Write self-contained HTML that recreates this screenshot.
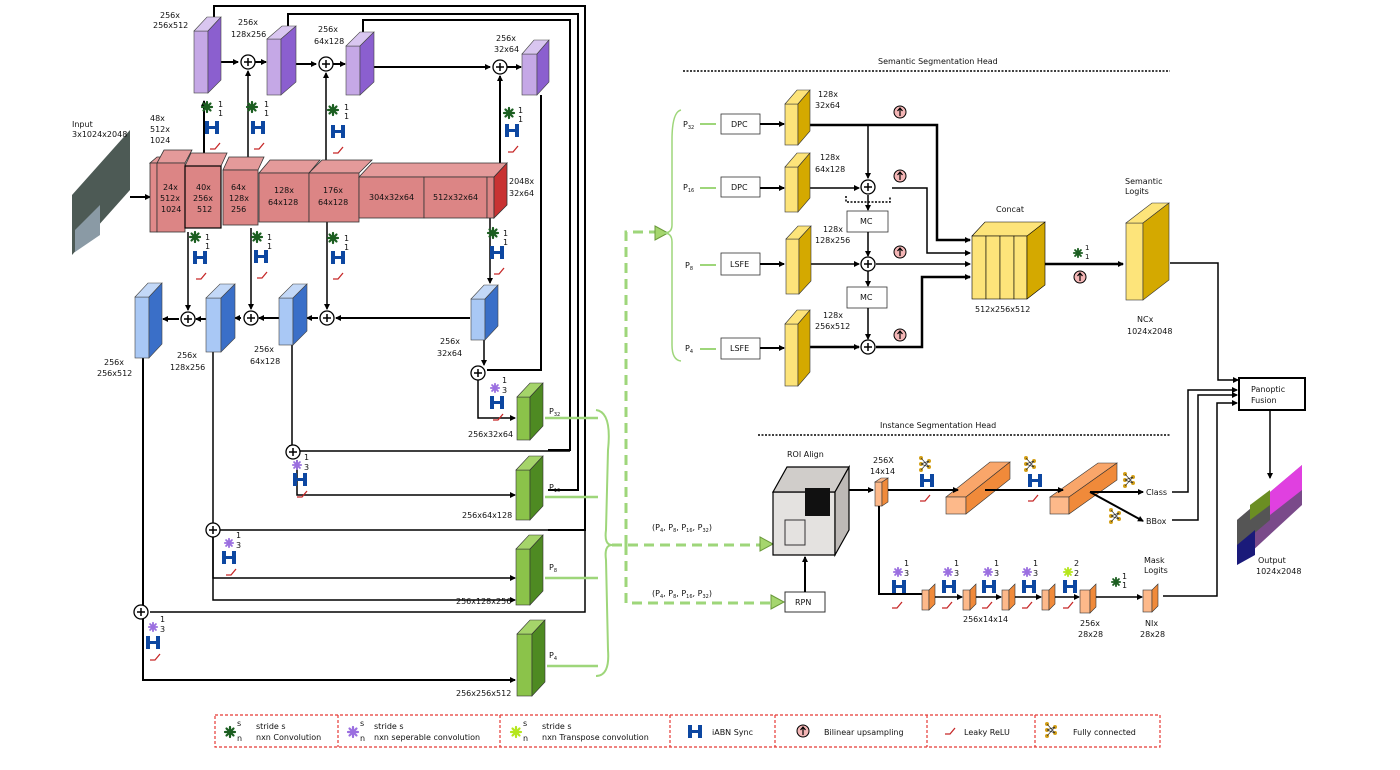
<!DOCTYPE html>
<html><head><meta charset="utf-8"><style>
html,body{margin:0;padding:0;background:#fff;}
svg{display:block;font-family:"DejaVu Sans","Liberation Sans",sans-serif;}
text{font-size:8px;fill:#111;}
</style></head><body>
<svg width="1400" height="770" viewBox="0 0 1400 770" xmlns="http://www.w3.org/2000/svg">
<defs>
<marker id="ar" markerWidth="6" markerHeight="6" refX="5" refY="3" orient="auto" markerUnits="userSpaceOnUse"><path d="M0,0 L6,3 L0,6 z" fill="#000"/></marker>
<symbol id="ast" viewBox="-6 -6 12 12" overflow="visible"><g stroke-width="2.2" stroke-linecap="round"><path d="M-5,0H5M0,-5V5M-3.5,-3.5L3.5,3.5M-3.5,3.5L3.5,-3.5"/></g></symbol>
<g id="H"><rect x="0" y="0" width="4" height="13" fill="#0d47a1"/><rect x="10" y="0" width="4" height="13" fill="#0d47a1"/><rect x="3" y="5" width="8" height="3" fill="#0d47a1"/></g>
<path id="relu" d="M0,8 L5,8 L10,2" fill="none" stroke="#c62828" stroke-width="1.3"/>
<g id="plus"><circle r="7" fill="#fff" stroke="#000" stroke-width="1.3"/><path d="M-4,0H4M0,-4V4" stroke="#000" stroke-width="1.5"/></g>
<g id="up"><circle r="6" fill="#f4b6b6" stroke="#000" stroke-width="1"/><path d="M0,4V-3M-2.5,-1L0,-4L2.5,-1" stroke="#000" stroke-width="1.2" fill="none"/></g>
<g id="fc" fill="#d4a017"><circle cx="0" cy="0" r="2"/><circle cx="0" cy="6" r="2"/><circle cx="0" cy="12" r="2"/><circle cx="8" cy="3" r="2"/><circle cx="8" cy="9" r="2"/><path d="M0,0L8,9M0,12L8,3M0,6L8,3M0,6L8,9" stroke="#333" stroke-width="0.7"/></g>
</defs>

<!-- input image -->
<polygon points="72,195 130,130 130,190 72,255" fill="#4d5a55"/>
<polygon points="75,230 100,205 100,235 75,252" fill="#8a9aa5"/>
<text x="72" y="127">Input</text><text x="72" y="137">3x1024x2048</text>
<line x1="130" y1="197" x2="150" y2="197" stroke="#000" stroke-width="2" marker-end="url(#ar)"/>

<!-- black long connectors -->
<g fill="none" stroke="#000" stroke-width="2">
<path d="M214,17 V6 H585 V530 H548"/>
<path d="M288,26 V14 H578 V490 H548"/>
<path d="M363,32 V20 H570 V450 H548"/>
<path d="M541,95 V370 H487"/>
</g>
<path d="M143,358 V680 H515" fill="none" stroke="#000" stroke-width="2" marker-end="url(#ar)"/>
<path d="M213,352 V600 H515" fill="none" stroke="#000" stroke-width="1.5" marker-end="url(#ar)"/>
<path d="M292,345 V450" fill="none" stroke="#000" stroke-width="1.5" marker-end="url(#ar)"/>
<path d="M484,340 V365" fill="none" stroke="#000" stroke-width="1.5" marker-end="url(#ar)"/>
<path d="M297,451 H570" fill="none" stroke="#000" stroke-width="1.5"/>
<path d="M297,460 V495 H515" fill="none" stroke="#000" stroke-width="1.5" marker-end="url(#ar)"/>
<path d="M220,530 H585" fill="none" stroke="#000" stroke-width="1.5"/>
<path d="M213,537 V578 H515" fill="none" stroke="#000" stroke-width="1.5" marker-end="url(#ar)"/>
<path d="M150,612 H585 V530" fill="none" stroke="#000" stroke-width="1.5"/>
<path d="M143,620 V665" fill="none" stroke="#000" stroke-width="1.5"/>
<path d="M478,376 V418 H515" fill="none" stroke="#000" stroke-width="1.5" marker-end="url(#ar)"/>
<use href="#plus" x="478" y="373"/>
<use href="#plus" x="293" y="452"/>
<use href="#plus" x="213" y="530"/>
<use href="#plus" x="141" y="612"/>

<!-- top purple path -->
<g stroke="#000" stroke-width="2" fill="none">
<line x1="221" y1="62" x2="238" y2="62" marker-end="url(#ar)"/>
<line x1="255" y1="62" x2="266" y2="62" marker-end="url(#ar)"/>
<line x1="296" y1="64" x2="316" y2="64" marker-end="url(#ar)"/>
<line x1="333" y1="64" x2="345" y2="64" marker-end="url(#ar)"/>
<line x1="374" y1="67" x2="490" y2="67" marker-end="url(#ar)"/>
<line x1="507" y1="67" x2="521" y2="67" marker-end="url(#ar)"/>
<line x1="204" y1="163" x2="204" y2="101" marker-end="url(#ar)"/>
<line x1="248" y1="163" x2="248" y2="71" marker-end="url(#ar)" stroke-width="1.5"/>
<line x1="326" y1="170" x2="326" y2="73" marker-end="url(#ar)" stroke-width="1.5"/>
<line x1="500" y1="163" x2="500" y2="76" marker-end="url(#ar)"/>
<line x1="188" y1="232" x2="188" y2="310" marker-end="url(#ar)" stroke-width="1.5"/>
<line x1="251" y1="228" x2="251" y2="309" marker-end="url(#ar)" stroke-width="1.5"/>
<line x1="327" y1="222" x2="327" y2="309" marker-end="url(#ar)" stroke-width="1.5"/>
<line x1="490" y1="218" x2="490" y2="283" marker-end="url(#ar)" stroke-width="1.5"/>
<line x1="470" y1="318" x2="336" y2="318" marker-end="url(#ar)"/>
<line x1="318" y1="318" x2="307" y2="318" marker-end="url(#ar)"/>
<line x1="279" y1="318" x2="259" y2="318" marker-end="url(#ar)"/>
<line x1="241" y1="318" x2="235" y2="318" marker-end="url(#ar)"/>
<line x1="206" y1="319" x2="196" y2="319" marker-end="url(#ar)"/>
<line x1="179" y1="319" x2="163" y2="319" marker-end="url(#ar)"/>
</g>
<use href="#plus" x="248" y="62"/><use href="#plus" x="326" y="64"/><use href="#plus" x="500" y="67"/>
<use href="#plus" x="188" y="319"/><use href="#plus" x="251" y="318"/><use href="#plus" x="327" y="318"/>

<!-- purple blocks -->
<g stroke="#444" stroke-width="0.6">
<rect x="194" y="31" width="14" height="62" fill="#c5a8e6"/><polygon points="194,31 208,31 221,17 207,17" fill="#d9c6f0"/><polygon points="208,31 221,17 221,80 208,93" fill="#8b5fcf"/>
<rect x="267" y="39" width="14" height="56" fill="#c5a8e6"/><polygon points="267,39 281,39 296,26 282,26" fill="#d9c6f0"/><polygon points="281,39 296,26 296,82 281,95" fill="#8b5fcf"/>
<rect x="346" y="46" width="14" height="49" fill="#c5a8e6"/><polygon points="346,46 360,46 374,32 360,32" fill="#d9c6f0"/><polygon points="360,46 374,32 374,82 360,95" fill="#8b5fcf"/>
<rect x="522" y="54" width="15" height="41" fill="#c5a8e6"/><polygon points="522,54 537,54 549,40 534,40" fill="#d9c6f0"/><polygon points="537,54 549,40 549,82 537,95" fill="#8b5fcf"/>
</g>
<text x="160" y="18">256x</text><text x="153" y="28">256x512</text>
<text x="238" y="25">256x</text><text x="231" y="37">128x256</text>
<text x="318" y="32">256x</text><text x="314" y="44">64x128</text>
<text x="496" y="41">256x</text><text x="494" y="52">32x64</text>

<!-- red encoder -->
<g stroke="#333" stroke-width="0.8">
<polygon points="150,163 157,163 164,157 157,157" fill="#e49a9a"/>
<rect x="150" y="163" width="7" height="69" fill="#e08a8a"/>
<polygon points="157,163 185,163 192,150 164,150" fill="#e49a9a"/>
<rect x="157" y="163" width="28" height="69" fill="#dc8585"/>
<polygon points="185,166 221,166 227,153 191,153" fill="#e49a9a"/>
<rect x="185" y="166" width="36" height="62" fill="#dc8585" stroke="#000" stroke-width="1.2"/>
<polygon points="223,170 258,170 264,157 229,157" fill="#e49a9a"/>
<rect x="223" y="170" width="35" height="55" fill="#dc8585"/>
<polygon points="259,173 309,173 320,160 270,160" fill="#e49a9a"/>
<rect x="259" y="173" width="50" height="49" fill="#dc8585"/>
<polygon points="309,173 359,173 372,160 322,160" fill="#e49a9a"/>
<rect x="309" y="173" width="50" height="49" fill="#dc8585"/>
<polygon points="359,177 494,177 507,163 372,163" fill="#e49a9a"/>
<rect x="359" y="177" width="65" height="41" fill="#dc8585"/>
<rect x="424" y="177" width="63" height="41" fill="#dc8585"/>
<rect x="487" y="177" width="7" height="41" fill="#dc8585"/>
<polygon points="494,177 507,163 507,205 494,218" fill="#c83232"/>
</g>
<text x="150" y="121">48x</text><text x="150" y="132">512x</text><text x="150" y="143">1024</text>
<text x="163" y="190">24x</text><text x="160" y="201">512x</text><text x="161" y="212">1024</text>
<text x="196" y="190">40x</text><text x="193" y="201">256x</text><text x="197" y="212">512</text>
<text x="231" y="190">64x</text><text x="229" y="201">128x</text><text x="231" y="212">256</text>
<text x="274" y="193">128x</text><text x="268" y="205">64x128</text>
<text x="323" y="193">176x</text><text x="318" y="205">64x128</text>
<text x="369" y="200">304x32x64</text><text x="433" y="200">512x32x64</text>
<text x="509" y="184">2048x</text><text x="509" y="196">32x64</text>

<!-- blue blocks -->
<g stroke="#444" stroke-width="0.6">
<rect x="135" y="297" width="14" height="61" fill="#a9c8f5"/><polygon points="135,297 149,297 162,283 148,283" fill="#c3d8f7"/><polygon points="149,297 162,283 162,344 149,358" fill="#3a6fc8"/>
<rect x="206" y="298" width="15" height="54" fill="#a9c8f5"/><polygon points="206,298 221,298 235,284 220,284" fill="#c3d8f7"/><polygon points="221,298 235,284 235,338 221,352" fill="#3a6fc8"/>
<rect x="279" y="298" width="14" height="47" fill="#a9c8f5"/><polygon points="279,298 293,298 307,284 293,284" fill="#c3d8f7"/><polygon points="293,298 307,284 307,331 293,345" fill="#3a6fc8"/>
<rect x="471" y="299" width="14" height="41" fill="#a9c8f5"/><polygon points="471,299 485,299 498,285 484,285" fill="#c3d8f7"/><polygon points="485,299 498,285 498,326 485,340" fill="#3a6fc8"/>
</g>
<text x="104" y="365">256x</text><text x="97" y="376">256x512</text>
<text x="177" y="358">256x</text><text x="170" y="370">128x256</text>
<text x="254" y="352">256x</text><text x="250" y="364">64x128</text>
<text x="440" y="344">256x</text><text x="437" y="356">32x64</text>

<!-- icon groups (conv 1x1 + iABN + relu) -->
<g fill="#1b5e20" stroke="#1b5e20">
<use href="#ast" x="207" y="107" width="12" height="12" transform="translate(-6,-6)" />
<use href="#ast" x="252" y="107" width="12" height="12" transform="translate(-6,-6)" />
<use href="#ast" x="333" y="110" width="12" height="12" transform="translate(-6,-6)" />
<use href="#ast" x="509" y="113" width="12" height="12" transform="translate(-6,-6)" />
<use href="#ast" x="195" y="237" width="12" height="12" transform="translate(-6,-6)" />
<use href="#ast" x="257" y="237" width="12" height="12" transform="translate(-6,-6)" />
<use href="#ast" x="333" y="238" width="12" height="12" transform="translate(-6,-6)" />
<use href="#ast" x="493" y="233" width="12" height="12" transform="translate(-6,-6)" />
</g>
<g>
<use href="#H" x="205" y="121"/><use href="#relu" x="210" y="141"/>
<use href="#H" x="251" y="121"/><use href="#relu" x="254" y="141"/>
<use href="#H" x="331" y="125"/><use href="#relu" x="333" y="145"/>
<use href="#H" x="505" y="124"/><use href="#relu" x="508" y="144"/>
<use href="#H" x="193" y="251"/><use href="#relu" x="196" y="271"/>
<use href="#H" x="254" y="250"/><use href="#relu" x="257" y="270"/>
<use href="#H" x="331" y="251"/><use href="#relu" x="333" y="271"/>
<use href="#H" x="490" y="246"/><use href="#relu" x="494" y="266"/>
</g>
<g style="font-size:7px">
<text x="218" y="107">1</text><text x="218" y="116">1</text>
<text x="264" y="107">1</text><text x="264" y="116">1</text>
<text x="344" y="110">1</text><text x="344" y="119">1</text>
<text x="518" y="113">1</text><text x="518" y="122">1</text>
<text x="205" y="240">1</text><text x="205" y="249">1</text>
<text x="267" y="240">1</text><text x="267" y="249">1</text>
<text x="344" y="241">1</text><text x="344" y="250">1</text>
<text x="503" y="236">1</text><text x="503" y="245">1</text>
</g>
<!-- separable 3x3 icons -->
<g fill="#9b6fe0" stroke="#9b6fe0">
<use href="#ast" x="490" y="383" width="10" height="10"/>
<use href="#ast" x="292" y="460" width="10" height="10"/>
<use href="#ast" x="224" y="538" width="10" height="10"/>
<use href="#ast" x="148" y="622" width="10" height="10"/>
</g>
<g style="font-size:7px">
<text x="502" y="383">1</text><text x="502" y="393">3</text>
<text x="304" y="460">1</text><text x="304" y="470">3</text>
<text x="236" y="538">1</text><text x="236" y="548">3</text>
<text x="160" y="622">1</text><text x="160" y="632">3</text>
</g>
<use href="#H" x="490" y="396"/><use href="#relu" x="493" y="412"/>
<use href="#H" x="293" y="473"/><use href="#relu" x="297" y="489"/>
<use href="#H" x="222" y="551"/><use href="#relu" x="226" y="567"/>
<use href="#H" x="146" y="636"/><use href="#relu" x="150" y="652"/>

<!-- green P blocks -->
<g stroke="#333" stroke-width="0.6">
<rect x="517" y="397" width="13" height="43" fill="#8bc34a"/><polygon points="517,397 530,397 543,383 530,383" fill="#a5d46a"/><polygon points="530,397 543,383 543,426 530,440" fill="#4e8a22"/>
<rect x="516" y="470" width="14" height="50" fill="#8bc34a"/><polygon points="516,470 530,470 543,456 529,456" fill="#a5d46a"/><polygon points="530,470 543,456 543,506 530,520" fill="#4e8a22"/>
<rect x="516" y="549" width="14" height="56" fill="#8bc34a"/><polygon points="516,549 530,549 543,535 529,535" fill="#a5d46a"/><polygon points="530,549 543,535 543,591 530,605" fill="#4e8a22"/>
<rect x="517" y="634" width="15" height="62" fill="#8bc34a"/><polygon points="517,634 532,634 545,620 530,620" fill="#a5d46a"/><polygon points="532,634 545,620 545,682 532,696" fill="#4e8a22"/>
</g>
<text x="468" y="437">256x32x64</text><text x="462" y="518">256x64x128</text>
<text x="456" y="604">256x128x256</text><text x="456" y="696">256x256x512</text>
<text x="549" y="414">P<tspan style="font-size:5px" dy="2">32</tspan></text>
<text x="549" y="490">P<tspan style="font-size:5px" dy="2">16</tspan></text>
<text x="549" y="570">P<tspan style="font-size:5px" dy="2">8</tspan></text>
<text x="549" y="658">P<tspan style="font-size:5px" dy="2">4</tspan></text>
<g stroke="#9ed67a" stroke-width="2.5" fill="none">
<line x1="545" y1="418" x2="598" y2="418"/><line x1="545" y1="497" x2="598" y2="497"/><line x1="545" y1="578" x2="598" y2="578"/><line x1="547" y1="666" x2="598" y2="666"/>
</g>
<path d="M596,410 Q612,412 608,450 L606,530 Q604,545 612,545 Q604,545 606,560 L608,650 Q610,676 596,676" fill="none" stroke="#9ed67a" stroke-width="2"/>
<g stroke="#9ed67a" stroke-width="3" fill="none" stroke-dasharray="10,6">
<path d="M612,545 H760"/><path d="M626,545 V232 H655"/><path d="M626,545 V603 H770"/>
</g>
<polygon points="655,226 668,233 655,240" fill="#a5d66e" stroke="#6a9a3a"/>
<polygon points="760,537 773,544 760,551" fill="#a5d66e" stroke="#6a9a3a"/>
<polygon points="771,595 784,602 771,609" fill="#a5d66e" stroke="#6a9a3a"/>
<text x="652" y="530">(P<tspan style="font-size:5px" dy="2">4</tspan><tspan dy="-2">, P</tspan><tspan style="font-size:5px" dy="2">8</tspan><tspan dy="-2">, P</tspan><tspan style="font-size:5px" dy="2">16</tspan><tspan dy="-2">, P</tspan><tspan style="font-size:5px" dy="2">32</tspan><tspan dy="-2">)</tspan></text>
<text x="652" y="596">(P<tspan style="font-size:5px" dy="2">4</tspan><tspan dy="-2">, P</tspan><tspan style="font-size:5px" dy="2">8</tspan><tspan dy="-2">, P</tspan><tspan style="font-size:5px" dy="2">16</tspan><tspan dy="-2">, P</tspan><tspan style="font-size:5px" dy="2">32</tspan><tspan dy="-2">)</tspan></text>

<!-- semantic head -->
<text x="878" y="64">Semantic Segmentation Head</text>
<line x1="683" y1="71" x2="1170" y2="71" stroke="#000" stroke-width="1.5" stroke-dasharray="2,1.5"/>
<path d="M681,110 Q672,112 672,140 L672,225 Q672,233 664,233 Q672,233 672,242 L672,345 Q672,360 681,361" fill="none" stroke="#9ed67a" stroke-width="1.5"/>
<g stroke="#9ed67a" stroke-width="2"><line x1="700" y1="124" x2="716" y2="124"/><line x1="700" y1="188" x2="716" y2="188"/><line x1="700" y1="265" x2="716" y2="265"/><line x1="700" y1="349" x2="716" y2="349"/></g>
<text x="683" y="127">P<tspan style="font-size:5px" dy="2">32</tspan></text>
<text x="683" y="190">P<tspan style="font-size:5px" dy="2">16</tspan></text>
<text x="685" y="268">P<tspan style="font-size:5px" dy="2">8</tspan></text>
<text x="685" y="351">P<tspan style="font-size:5px" dy="2">4</tspan></text>
<g fill="#fff" stroke="#333" stroke-width="0.8">
<rect x="721" y="114" width="39" height="20"/><rect x="721" y="177" width="39" height="20"/><rect x="721" y="253" width="39" height="22"/><rect x="721" y="338" width="39" height="21"/>
<rect x="847" y="211" width="41" height="21"/><rect x="847" y="287" width="40" height="21"/>
</g>
<text x="731" y="127">DPC</text><text x="731" y="190">DPC</text><text x="730" y="267">LSFE</text><text x="730" y="351">LSFE</text>
<text x="860" y="224">MC</text><text x="860" y="300">MC</text>
<g stroke="#000" stroke-width="2" fill="none">
<line x1="760" y1="124" x2="784" y2="124" marker-end="url(#ar)"/><line x1="760" y1="188" x2="784" y2="188" marker-end="url(#ar)"/>
<line x1="760" y1="264" x2="784" y2="264" marker-end="url(#ar)"/><line x1="760" y1="348" x2="784" y2="348" marker-end="url(#ar)"/>
<path d="M810,125 H937 V240 H970" stroke-width="2.5" marker-end="url(#ar)"/>
<line x1="868" y1="126" x2="868" y2="178" stroke-width="1.5" marker-end="url(#ar)"/>
<line x1="810" y1="188" x2="859" y2="188" stroke-width="1.5" marker-end="url(#ar)"/>
<path d="M892,188 H927 V253 H970" stroke-width="1.5" marker-end="url(#ar)"/>
<line x1="868" y1="195" x2="868" y2="210" stroke-width="1.5" marker-end="url(#ar)"/>
<line x1="868" y1="232" x2="868" y2="256" stroke-width="1.5" marker-end="url(#ar)"/>
<line x1="810" y1="264" x2="859" y2="264" stroke-width="1.5" marker-end="url(#ar)"/>
<line x1="876" y1="264" x2="970" y2="264" stroke-width="1.5" marker-end="url(#ar)"/>
<line x1="868" y1="271" x2="868" y2="286" stroke-width="1.5" marker-end="url(#ar)"/>
<line x1="868" y1="308" x2="868" y2="339" stroke-width="1.5" marker-end="url(#ar)"/>
<line x1="810" y1="347" x2="859" y2="347" stroke-width="2.5" marker-end="url(#ar)"/>
<path d="M876,347 H922 V277 H970" stroke-width="2.5" marker-end="url(#ar)"/>
<line x1="1045" y1="264" x2="1123" y2="264" stroke-width="2.5" marker-end="url(#ar)"/>
<path d="M1170,263 H1218 V380 H1238" stroke-width="1.5" marker-end="url(#ar)"/>
</g>
<path d="M846,196 V202 H890 V196" fill="none" stroke="#000" stroke-width="1.5" stroke-dasharray="2,1.5"/>
<use href="#plus" x="868" y="187"/><use href="#plus" x="868" y="264"/><use href="#plus" x="868" y="347"/>
<use href="#up" x="900" y="112"/><use href="#up" x="900" y="176"/><use href="#up" x="900" y="252"/><use href="#up" x="900" y="335"/><use href="#up" x="1080" y="277"/>
<g stroke="#333" stroke-width="0.6">
<rect x="785" y="104" width="13" height="41" fill="#fde47a"/><polygon points="785,104 798,104 810,90 797,90" fill="#fde47a"/><polygon points="798,104 810,90 810,131 798,145" fill="#d4a900"/>
<rect x="785" y="167" width="13" height="45" fill="#fde47a"/><polygon points="785,167 798,167 810,153 797,153" fill="#fde47a"/><polygon points="798,167 810,153 810,198 798,212" fill="#d4a900"/>
<rect x="786" y="239" width="13" height="55" fill="#fde47a"/><polygon points="786,239 799,239 811,226 798,226" fill="#fde47a"/><polygon points="799,239 811,226 811,281 799,294" fill="#d4a900"/>
<rect x="785" y="324" width="13" height="62" fill="#fde47a"/><polygon points="785,324 798,324 810,310 797,310" fill="#fde47a"/><polygon points="798,324 810,310 810,372 798,386" fill="#d4a900"/>
<polygon points="972,236 1032,236 1045,222 985,222" fill="#fde47a" stroke="#000"/>
<rect x="972" y="236" width="14" height="63" fill="#fde47a" stroke="#000"/><rect x="986" y="236" width="14" height="63" fill="#fde47a" stroke="#000"/><rect x="1000" y="236" width="14" height="63" fill="#fde47a" stroke="#000"/><rect x="1014" y="236" width="13" height="63" fill="#fde47a" stroke="#000"/>
<polygon points="1027,236 1045,222 1045,285 1027,299" fill="#d4a900" stroke="#000"/>
<rect x="1126" y="223" width="17" height="77" fill="#fde47a"/><polygon points="1126,223 1143,223 1169,203 1152,203" fill="#fde47a"/><polygon points="1143,223 1169,203 1169,280 1143,300" fill="#d4a900"/>
</g>
<text x="818" y="97">128x</text><text x="815" y="108">32x64</text>
<text x="820" y="160">128x</text><text x="815" y="172">64x128</text>
<text x="823" y="232">128x</text><text x="815" y="243">128x256</text>
<text x="823" y="318">128x</text><text x="815" y="329">256x512</text>
<text x="996" y="212">Concat</text><text x="975" y="312">512x256x512</text>
<text x="1125" y="184">Semantic</text><text x="1125" y="194">Logits</text>
<text x="1137" y="322">NCx</text><text x="1127" y="334">1024x2048</text>
<use href="#ast" x="1073" y="248" width="10" height="10" fill="#1b5e20" stroke="#1b5e20"/>
<text x="1085" y="250" style="font-size:7px">1</text><text x="1085" y="259" style="font-size:7px">1</text>

<!-- panoptic fusion -->
<rect x="1239" y="378" width="66" height="32" fill="#fff" stroke="#000" stroke-width="2"/>
<text x="1251" y="392">Panoptic</text><text x="1251" y="403">Fusion</text>
<g stroke="#000" stroke-width="1.5" fill="none">
<path d="M1172,492 H1188 V390 H1237" marker-end="url(#ar)"/>
<path d="M1172,520 H1198 V395 H1237" marker-end="url(#ar)"/>
<path d="M1163,596 H1217 V403 H1237" marker-end="url(#ar)"/>
<line x1="1270" y1="410" x2="1270" y2="478" marker-end="url(#ar)"/>
</g>
<polygon points="1237,520 1302,465 1302,505 1237,565" fill="#7a4a8a"/>
<polygon points="1237,520 1270,492 1270,520 1237,548" fill="#555"/>
<polygon points="1270,492 1302,465 1302,490 1270,515" fill="#e040e0"/>
<polygon points="1237,545 1255,530 1255,555 1237,565" fill="#1a1a7a"/>
<polygon points="1250,505 1270,490 1270,505 1250,520" fill="#6b8e23"/>
<text x="1258" y="563">Output</text><text x="1256" y="574">1024x2048</text>

<!-- instance head -->
<text x="880" y="428">Instance Segmentation Head</text>
<line x1="758" y1="435" x2="1170" y2="435" stroke="#000" stroke-width="1.5" stroke-dasharray="2,1.5"/>
<text x="787" y="457">ROI Align</text>
<polygon points="773,492 835,492 835,555 773,555" fill="#e4e2e0" stroke="#000" stroke-width="1.2"/>
<polygon points="773,492 787,467 849,467 835,492" fill="#d0cdca" stroke="#000" stroke-width="1.2"/>
<polygon points="835,492 849,467 849,530 835,555" fill="#bdb9b6" stroke="#000" stroke-width="1.2"/>
<rect x="805" y="488" width="25" height="28" fill="#111"/>
<rect x="785" y="520" width="20" height="25" fill="none" stroke="#333"/>
<rect x="785" y="592" width="40" height="20" fill="#fff" stroke="#333"/>
<text x="795" y="605">RPN</text>
<line x1="805" y1="592" x2="805" y2="557" stroke="#000" stroke-width="2" marker-end="url(#ar)"/>
<line x1="849" y1="490" x2="873" y2="490" stroke="#000" stroke-width="2" marker-end="url(#ar)"/>
<g stroke="#333" stroke-width="0.6">
<rect x="875" y="482" width="7" height="24" fill="#fdb98a"/><polygon points="882,482 888,478 888,502 882,506" fill="#f08a3a"/><polygon points="875,482 882,482 888,478 881,478" fill="#fdb98a"/>
<polygon points="946,497 990,462 1010,462 966,497" fill="#f9a66a"/><rect x="946" y="497" width="20" height="17" fill="#fdb98a"/><polygon points="966,497 1010,462 1010,479 966,514" fill="#f08a3a"/>
<polygon points="1050,497 1098,463 1117,463 1069,497" fill="#f9a66a"/><rect x="1050" y="497" width="19" height="17" fill="#fdb98a"/><polygon points="1069,497 1117,463 1117,480 1069,514" fill="#f08a3a"/>
</g>
<text x="873" y="463">256X</text><text x="870" y="474">14x14</text>
<g stroke="#000" stroke-width="2" fill="none">
<line x1="888" y1="490" x2="917" y2="490"/>
<line x1="917" y1="490" x2="958" y2="490" marker-end="url(#ar)"/>
<line x1="985" y1="490" x2="1063" y2="490" marker-end="url(#ar)"/>
<line x1="1090" y1="492" x2="1143" y2="492" marker-end="url(#ar)"/>
<line x1="1090" y1="492" x2="1143" y2="521" marker-end="url(#ar)"/>
<path d="M879,506 V594 H930" marker-end="url(#ar)"/>
</g>
<text x="1146" y="495">Class</text><text x="1146" y="524">BBox</text>
<use href="#fc" x="921" y="458"/><use href="#fc" x="1026" y="458"/><use href="#fc" x="1125" y="474"/><use href="#fc" x="1111" y="510"/>
<use href="#H" x="920" y="474"/><use href="#relu" x="920" y="493"/>
<use href="#H" x="1028" y="474"/><use href="#relu" x="1028" y="493"/>
<!-- mask branch -->
<g stroke="#333" stroke-width="0.6">
<rect x="922" y="590" width="7" height="20" fill="#fdb98a"/><polygon points="929,590 935,584 935,604 929,610" fill="#f08a3a"/>
<rect x="963" y="590" width="7" height="20" fill="#fdb98a"/><polygon points="970,590 976,584 976,604 970,610" fill="#f08a3a"/>
<rect x="1002" y="590" width="7" height="20" fill="#fdb98a"/><polygon points="1009,590 1015,584 1015,604 1009,610" fill="#f08a3a"/>
<rect x="1042" y="590" width="7" height="20" fill="#fdb98a"/><polygon points="1049,590 1055,584 1055,604 1049,610" fill="#f08a3a"/>
<rect x="1080" y="590" width="10" height="23" fill="#fdb98a"/><polygon points="1090,590 1096,584 1096,607 1090,613" fill="#f08a3a"/>
<rect x="1143" y="590" width="9" height="22" fill="#fdb98a"/><polygon points="1152,590 1158,584 1158,606 1152,612" fill="#f08a3a"/>
</g>
<g stroke="#000" stroke-width="1.5" fill="none">
<line x1="935" y1="597" x2="962" y2="597" marker-end="url(#ar)"/>
<line x1="976" y1="597" x2="1001" y2="597" marker-end="url(#ar)"/>
<line x1="1015" y1="597" x2="1041" y2="597" marker-end="url(#ar)"/>
<line x1="1055" y1="597" x2="1079" y2="597" marker-end="url(#ar)"/>
<line x1="1096" y1="597" x2="1142" y2="597" marker-end="url(#ar)"/>
</g>
<g fill="#9b6fe0" stroke="#9b6fe0">
<use href="#ast" x="893" y="567" width="10" height="10"/><use href="#ast" x="943" y="567" width="10" height="10"/>
<use href="#ast" x="983" y="567" width="10" height="10"/><use href="#ast" x="1022" y="567" width="10" height="10"/>
</g>
<use href="#ast" x="1063" y="567" width="10" height="10" fill="#b5e61d" stroke="#b5e61d"/>
<use href="#ast" x="1111" y="577" width="10" height="10" fill="#1b5e20" stroke="#1b5e20"/>
<g style="font-size:7px">
<text x="904" y="566">1</text><text x="904" y="576">3</text><text x="954" y="566">1</text><text x="954" y="576">3</text>
<text x="994" y="566">1</text><text x="994" y="576">3</text><text x="1033" y="566">1</text><text x="1033" y="576">3</text>
<text x="1074" y="566">2</text><text x="1074" y="576">2</text><text x="1122" y="579">1</text><text x="1122" y="588">1</text>
</g>
<use href="#H" x="892" y="580"/><use href="#H" x="942" y="580"/><use href="#H" x="982" y="580"/><use href="#H" x="1022" y="580"/><use href="#H" x="1063" y="580"/>
<use href="#relu" x="892" y="600"/><use href="#relu" x="942" y="600"/><use href="#relu" x="982" y="600"/><use href="#relu" x="1022" y="600"/><use href="#relu" x="1063" y="600"/>
<text x="963" y="622">256x14x14</text>
<text x="1080" y="626">256x</text><text x="1078" y="637">28x28</text>
<text x="1144" y="563">Mask</text><text x="1144" y="573">Logits</text>
<text x="1145" y="626">NIx</text><text x="1140" y="637">28x28</text>

<!-- legend -->
<g fill="none" stroke="#e53935" stroke-width="1.2" stroke-dasharray="3,2">
<rect x="215" y="715" width="945" height="32"/>
<line x1="338" y1="715" x2="338" y2="747"/><line x1="500" y1="715" x2="500" y2="747"/><line x1="670" y1="715" x2="670" y2="747"/>
<line x1="775" y1="715" x2="775" y2="747"/><line x1="927" y1="715" x2="927" y2="747"/><line x1="1035" y1="715" x2="1035" y2="747"/>
</g>
<use href="#ast" x="224" y="726" width="12" height="12" fill="#1b5e20" stroke="#1b5e20"/>
<use href="#ast" x="347" y="726" width="12" height="12" fill="#9b6fe0" stroke="#9b6fe0"/>
<use href="#ast" x="510" y="726" width="12" height="12" fill="#b5e61d" stroke="#b5e61d"/>
<g style="font-size:6px"><text x="237" y="726">s</text><text x="237" y="741">n</text><text x="360" y="726">s</text><text x="360" y="741">n</text><text x="523" y="726">s</text><text x="523" y="741">n</text></g>
<text x="256" y="729">stride s</text><text x="256" y="740">nxn Convolution</text>
<text x="374" y="729">stride s</text><text x="374" y="740">nxn seperable convolution</text>
<text x="542" y="729">stride s</text><text x="542" y="740">nxn Transpose convolution</text>
<use href="#H" x="688" y="725"/><text x="712" y="735">iABN Sync</text>
<use href="#up" x="803" y="731"/><text x="824" y="735">Bilinear upsampling</text>
<use href="#relu" x="945" y="726"/><text x="964" y="735">Leaky ReLU</text>
<use href="#fc" x="1047" y="724"/><text x="1073" y="735">Fully connected</text>
</svg>
</body></html>
